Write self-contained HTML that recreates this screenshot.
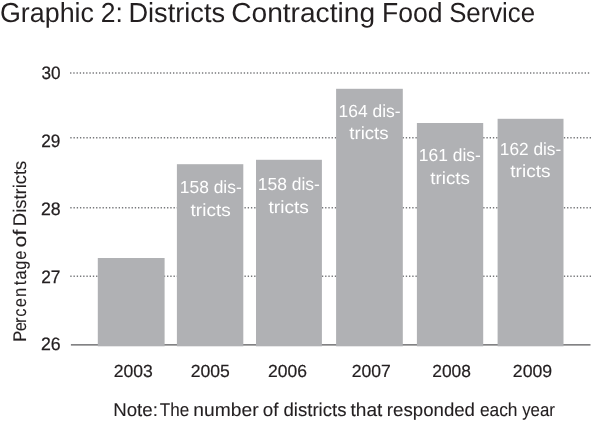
<!DOCTYPE html>
<html><head><meta charset="utf-8"><style>
html,body{margin:0;padding:0;background:#fff;}
body{width:600px;height:429px;overflow:hidden;}
svg{display:block;will-change:transform;}
text{font-family:"Liberation Sans",sans-serif;text-rendering:geometricPrecision;}
</style></head><body>
<svg width="600" height="429" viewBox="0 0 600 429">
<rect width="600" height="429" fill="#fff"/>
<g stroke="#77787b" stroke-width="1.5">
<line x1="70.07" y1="73" x2="589.3" y2="73" stroke-dasharray="1.35 1.866"/>
<line x1="70.27" y1="137.8" x2="591.1" y2="137.8" stroke-dasharray="1.35 1.876"/>
<line x1="70.27" y1="207.65" x2="591.1" y2="207.65" stroke-dasharray="1.35 1.876"/>
<line x1="70.27" y1="276.2" x2="591.1" y2="276.2" stroke-dasharray="1.35 1.876"/>
</g>
<line x1="70.9" y1="344.9" x2="590.5" y2="344.9" stroke="#58595b" stroke-width="1.3"/>
<g fill="#b0b1b4">
<rect x="97.8" y="258.0" width="66.8" height="88.3"/>
<rect x="176.9" y="164.2" width="66.4" height="182.1"/>
<rect x="256" y="159.8" width="65.9" height="186.5"/>
<rect x="336.1" y="88.8" width="66.7" height="257.5"/>
<rect x="416.9" y="123" width="66.3" height="223.3"/>
<rect x="497.6" y="118.8" width="65.9" height="227.5"/>
</g>
<g font-size="27.5" fill="#231f20"><text x="0.00" y="21.6" textLength="93.92" lengthAdjust="spacingAndGlyphs">Graphic</text><text x="100.76" y="21.6" textLength="22.14" lengthAdjust="spacingAndGlyphs">2:</text><text x="128.38" y="21.6" textLength="96.67" lengthAdjust="spacingAndGlyphs">Districts</text><text x="231.18" y="21.6" textLength="143.90" lengthAdjust="spacingAndGlyphs">Contracting</text><text x="381.92" y="21.6" textLength="60.57" lengthAdjust="spacingAndGlyphs">Food</text><text x="449.20" y="21.6" textLength="85.85" lengthAdjust="spacingAndGlyphs">Service</text></g>
<g font-size="18" fill="#231f20" stroke="#231f20" stroke-width="0.25"><text x="41.55" y="78.66" textLength="19.13" lengthAdjust="spacingAndGlyphs">30</text><text x="41.28" y="146.78" textLength="19.20" lengthAdjust="spacingAndGlyphs">29</text><text x="41.02" y="214.5" textLength="19.70" lengthAdjust="spacingAndGlyphs">28</text><text x="41.28" y="282.5" textLength="19.20" lengthAdjust="spacingAndGlyphs">27</text><text x="40.99" y="350.0" textLength="19.70" lengthAdjust="spacingAndGlyphs">26</text></g>
<g font-size="17.5" fill="#231f20" stroke="#231f20" stroke-width="0.2"><text x="113.68" y="377" textLength="39.14" lengthAdjust="spacingAndGlyphs">2003</text><text x="190.68" y="377" textLength="39.14" lengthAdjust="spacingAndGlyphs">2005</text><text x="268.08" y="377" textLength="38.93" lengthAdjust="spacingAndGlyphs">2006</text><text x="351.68" y="377" textLength="39.14" lengthAdjust="spacingAndGlyphs">2007</text><text x="432.28" y="377" textLength="38.72" lengthAdjust="spacingAndGlyphs">2008</text><text x="512.87" y="377" textLength="39.35" lengthAdjust="spacingAndGlyphs">2009</text></g>
<g font-size="18.5" fill="#231f20" stroke="#231f20" stroke-width="0.1"><text x="113.19" y="415.9" textLength="44.65" lengthAdjust="spacingAndGlyphs">Note:</text><text x="159.78" y="415.9" textLength="29.36" lengthAdjust="spacingAndGlyphs">The</text><text x="193.35" y="415.9" textLength="65.20" lengthAdjust="spacingAndGlyphs">number</text><text x="262.66" y="415.9" textLength="15.72" lengthAdjust="spacingAndGlyphs">of</text><text x="283.47" y="415.9" textLength="63.06" lengthAdjust="spacingAndGlyphs">districts</text><text x="350.55" y="415.9" textLength="31.83" lengthAdjust="spacingAndGlyphs">that</text><text x="386.88" y="415.9" textLength="88.11" lengthAdjust="spacingAndGlyphs">responded</text><text x="479.91" y="415.9" textLength="37.62" lengthAdjust="spacingAndGlyphs">each</text><text x="522.15" y="415.9" textLength="32.68" lengthAdjust="spacingAndGlyphs">year</text></g>
<g font-size="18.3" fill="#231f20" stroke="#231f20" stroke-width="0.1" transform="translate(25.9,400) rotate(-90)"><text x="64.62 76.50 85.65 92.62 103.16 114.46 127.43 133.84 144.81 155.77" y="0" transform="scale(0.9,1)">Percentage</text><text x="152.85" y="0" textLength="17.38" lengthAdjust="spacingAndGlyphs">of</text><text x="173.86" y="0" textLength="65.41" lengthAdjust="spacingAndGlyphs">Districts</text></g>
<g font-size="17.5" fill="#fff"><text x="179.81" y="192.85" textLength="61.92" lengthAdjust="spacingAndGlyphs">158 dis-</text><text x="190.60" y="215.8" textLength="40.09" lengthAdjust="spacingAndGlyphs">tricts</text><text x="257.81" y="189.95" textLength="62.12" lengthAdjust="spacingAndGlyphs">158 dis-</text><text x="268.50" y="212.6" textLength="40.30" lengthAdjust="spacingAndGlyphs">tricts</text><text x="338.61" y="116.55" textLength="62.02" lengthAdjust="spacingAndGlyphs">164 dis-</text><text x="349.30" y="139.2" textLength="39.28" lengthAdjust="spacingAndGlyphs">tricts</text><text x="418.81" y="160.8" textLength="62.12" lengthAdjust="spacingAndGlyphs">161 dis-</text><text x="430.30" y="183.9" textLength="39.69" lengthAdjust="spacingAndGlyphs">tricts</text><text x="499.82" y="154.55" textLength="61.40" lengthAdjust="spacingAndGlyphs">162 dis-</text><text x="510.30" y="177.2" textLength="40.20" lengthAdjust="spacingAndGlyphs">tricts</text></g>
</svg>
</body></html>
